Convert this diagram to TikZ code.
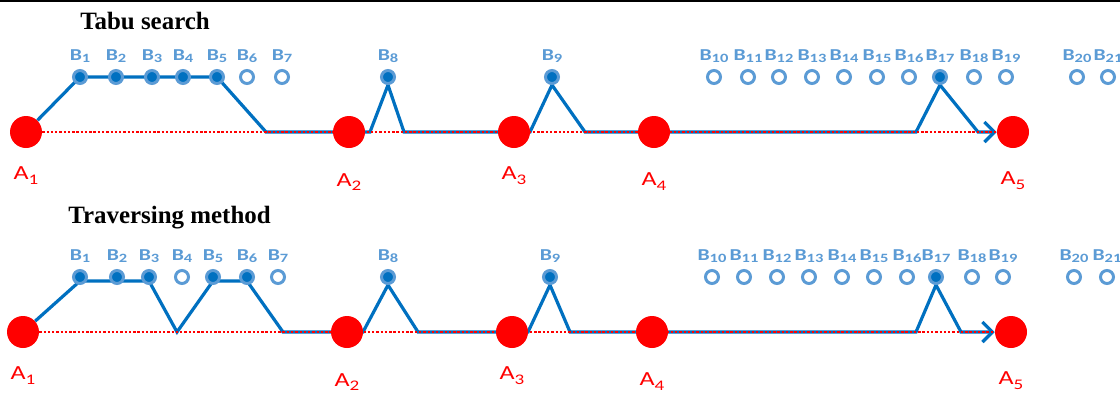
\documentclass[tikz,border=0pt]{standalone}
\usepackage{fontspec}
\setmainfont{Liberation Serif}
\newfontfamily\calibri[FakeStretch=1.3]{Carlito}
\usetikzlibrary{arrows.meta, positioning, backgrounds}
\definecolor{routeblue}{RGB}{0,112,192}
\definecolor{markblue}{RGB}{91,155,213}

% lowered indices of the labels
\newcommand\asub[1]{\raisebox{-3.5pt}{\fontsize{11}{11}\selectfont #1}}
\newcommand\bsub[1]{\raisebox{-1.5pt}{\fontsize{9.5}{9.5}\selectfont #1}}

\tikzset{
  stop/.style={circle, fill=red, minimum size=24pt, inner sep=0pt},
  cand/.style={circle, draw=markblue, line width=2.25pt, fill=white, minimum size=9.75pt, inner sep=0pt},
  stoplabel/.style={font=\calibri\fontsize{15}{16}\selectfont, text=red, inner sep=0pt},
  candlabel/.style={font=\calibri\bfseries\fontsize{12.5}{13}\selectfont, text=markblue, inner sep=0pt},
  heading/.style={font=\bfseries\fontsize{18.7}{22}\selectfont, inner sep=0pt, anchor=base west},
  route/.style={draw=routeblue, line width=2.4pt},
  direct/.style={draw=red, line width=1.3pt, dash pattern=on 1.8pt off 1.4pt},
  goal/.style={-{Straight Barb[length=7.5pt, width=15pt]}},
}

\begin{document}
\begin{tikzpicture}[x=0.75pt, y=-0.75pt]
    \useasboundingbox (0,0) rectangle (1120,393);

    % Rule on top
    \draw[line width=1.2pt] (0,0.8) -- (1120,0.8);

    % Tabu search
    \node[heading] (tsTitle) at (80,29) {Tabu search};
    \foreach \n/\x in {1/26, 2/349, 3/514, 4/654, 5/1013}
        \node[stop] (tsA\n) at (\x,132) {};
    \foreach \n/\d in {1/13.5, 2/18.5, 3/13.5, 4/18, 5/17.5}
        \node[stoplabel, below=\d pt of tsA\n] (tsLA\n) {A\asub{\n}};
    \foreach \n/\x/\f in {1/80/routeblue, 2/116/routeblue, 3/152/routeblue, 4/183/routeblue,
        5/217/routeblue, 6/247/white, 7/282/white, 8/388/routeblue, 9/552/routeblue,
        10/714/white, 11/748/white, 12/779/white, 13/812/white, 14/844/white, 15/877/white,
        16/909/white, 17/940/routeblue, 18/974/white, 19/1006/white, 20/1077/white, 21/1108/white}
    {
        \node[cand, fill=\f] (tsB\n) at (\x,77) {};
        \node[candlabel, above=4.5pt of tsB\n] (tsLB\n) {B\bsub{\n}};
    }
    \coordinate (ts1) at (266,132);
    \coordinate (ts2) at (370,132);
    \coordinate (ts3) at (404,132);
    \coordinate (ts4) at (530,132);
    \coordinate (ts5) at (585,132);
    \coordinate (ts6) at (916,132);
    \coordinate (ts7) at (978,132);

    % Traversing method
    \node[heading] (trTitle) at (68,223) {Traversing method};
    \foreach \n/\x in {1/23, 2/347, 3/512, 4/652, 5/1011}
        \node[stop] (trA\n) at (\x,332) {};
    \foreach \n/\d in {1/13.5, 2/18.5, 3/13.5, 4/18, 5/17.5}
        \node[stoplabel, below=\d pt of trA\n] (trLA\n) {A\asub{\n}};
    \foreach \n/\x/\f in {1/80/routeblue, 2/117/routeblue, 3/149/routeblue, 4/182/white,
        5/213/routeblue, 6/247/routeblue, 7/278/white, 8/388/routeblue, 9/550/routeblue,
        10/712/white, 11/744/white, 12/777/white, 13/809/white, 14/842/white, 15/874/white,
        16/907/white, 17/936/routeblue, 18/972/white, 19/1003/white, 20/1074/white, 21/1107/white}
    {
        \node[cand, fill=\f] (trB\n) at (\x,277) {};
        \node[candlabel, above=4.5pt of trB\n] (trLB\n) {B\bsub{\n}};
    }
    \coordinate (tr1) at (177,332);
    \coordinate (tr2) at (283,332);
    \coordinate (tr3) at (363,332);
    \coordinate (tr4) at (418,332);
    \coordinate (tr5) at (528,332);
    \coordinate (tr6) at (570,332);
    \coordinate (tr7) at (916,332);
    \coordinate (tr8) at (961,332);

    % Routes
    \begin{scope}[on background layer]
        \draw[route, goal] (tsA1) -- (tsB1.center) -- (tsB2.center)
            -- (tsB3.center) -- (tsB4.center) -- (tsB5.center) -- (ts1) -- (tsA2.center) -- (ts2)
            -- (tsB8.south) -- (ts3) -- (tsA3.center) -- (ts4) -- (tsB9.south) -- (ts5)
            -- (tsA4.center) -- (ts6) -- (tsB17.south) -- (ts7) -- (tsA5);
        \draw[direct] (tsA1) -- (tsA5);

        \draw[route, goal] (trA1) -- ([yshift=-3pt]trB1.center)
            -- ([yshift=-3pt]trB2.center) -- ([yshift=-3pt]trB3.center) -- (tr1)
            -- ([yshift=-3pt]trB5.center) -- ([yshift=-3pt]trB6.center) -- (tr2) -- (trA2.center)
            -- (tr3) -- (trB8.south) -- (tr4) -- (trA3.center) -- (tr5) -- (trB9.south) -- (tr6)
            -- (trA4.center) -- (tr7) -- (trB17.south) -- (tr8) -- (trA5);
        \draw[direct] (trA1) -- (trA5);
    \end{scope}
\end{tikzpicture}
\end{document}
